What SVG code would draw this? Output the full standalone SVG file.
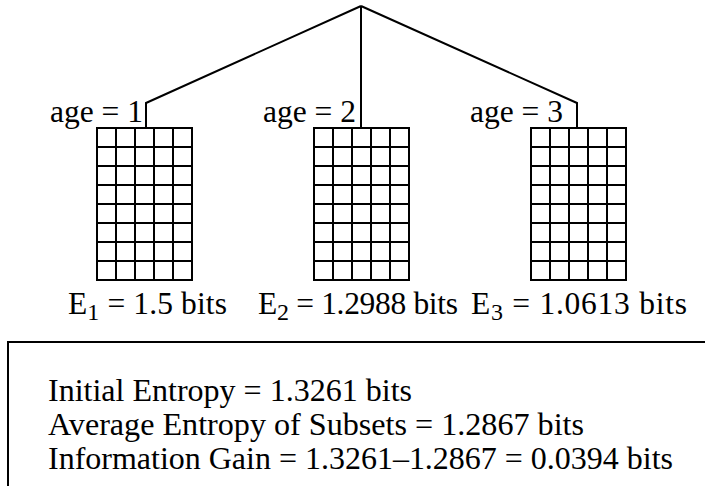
<svg xmlns="http://www.w3.org/2000/svg" width="705" height="486" viewBox="0 0 705 486">
<defs>
<style>
.t{font-family:"Liberation Serif","Times New Roman",serif;font-size:31.5px;fill:#000}
.b{font-size:30.5px}
.sub{font-size:24px}
.ln{fill:none;stroke:#000;stroke-width:2}
.grid{fill:none;stroke:#000;stroke-width:2}
</style>
<g id="cells">
<path class="grid" d="M0 0H95V152H0Z M19 0V152 M38 0V152 M57 0V152 M76 0V152 M0 19H95 M0 38H95 M0 57H95 M0 76H95 M0 95H95 M0 114H95 M0 133H95"/>
</g>
</defs>
<rect width="705" height="486" fill="#fff"/>
<g id="connectors">
<path class="ln" d="M361 6L146 103V128"/>
<path class="ln" d="M361 6V128"/>
<path class="ln" d="M361 6L577 103V128"/>
</g>
<g id="node-age1">
<use href="#cells" x="97" y="128"/>
<text class="t" x="50" y="122">age = 1</text>
<text class="t" x="68" y="314" textLength="159" lengthAdjust="spacing">E<tspan class="sub" dy="6">1</tspan><tspan dy="-6"> = 1.5 bits</tspan></text>
</g>
<g id="node-age2">
<use href="#cells" x="314" y="128"/>
<text class="t" x="263" y="122">age = 2</text>
<text class="t" x="258" y="314" textLength="200" lengthAdjust="spacing">E<tspan class="sub" dy="6">2</tspan><tspan dy="-6"> = 1.2988 bits</tspan></text>
</g>
<g id="node-age3">
<use href="#cells" x="531" y="128"/>
<text class="t" x="470" y="122">age = 3</text>
<text class="t" x="471" y="314" textLength="216" lengthAdjust="spacing">E<tspan class="sub" dy="6">3</tspan><tspan dy="-6"> = 1.0613 bits</tspan></text>
</g>
<g id="node-summary">
<path class="ln" d="M8 486V342H705"/>
<text class="t b" x="48" y="401" textLength="364" lengthAdjust="spacingAndGlyphs">Initial Entropy = 1.3261 bits</text>
<text class="t b" x="48" y="435" textLength="536" lengthAdjust="spacingAndGlyphs">Average Entropy of Subsets = 1.2867 bits</text>
<text class="t b" x="48" y="469" textLength="625" lengthAdjust="spacingAndGlyphs">Information Gain = 1.3261–1.2867 = 0.0394 bits</text>
</g>
</svg>
